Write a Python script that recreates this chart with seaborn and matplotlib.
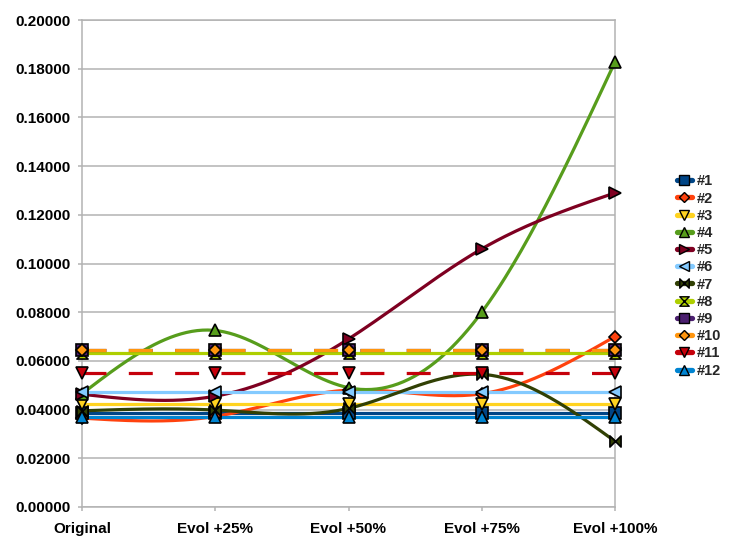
import numpy as np
import pandas as pd
import matplotlib
matplotlib.use('Agg')
import matplotlib.pyplot as plt
import seaborn as sns
from matplotlib.lines import Line2D
from matplotlib.path import Path

# categories on the x axis
categories = ['Original', 'Evol +25%', 'Evol +50%', 'Evol +75%', 'Evol +100%']
series_names = ['#1', '#2', '#3', '#4', '#5', '#6', '#7', '#8', '#9', '#10', '#11', '#12']

# series values
s1 = [0.0388, 0.0388, 0.0388, 0.0388, 0.0388]
s2 = [0.0365, 0.0372, 0.0480, 0.0465, 0.0700]
s3 = [0.0425, 0.0425, 0.0425, 0.0425, 0.0425]
s4 = [0.0465, 0.0725, 0.0490, 0.0800, 0.1828]
s5 = [0.0463, 0.0455, 0.0690, 0.1060, 0.1290]
s6 = [0.0472, 0.0472, 0.0472, 0.0472, 0.0472]
s7 = [0.0395, 0.0398, 0.0405, 0.0545, 0.0270]
s8 = [0.0632, 0.0632, 0.0632, 0.0632, 0.0632]
s9 = [0.0645, 0.0645, 0.0645, 0.0645, 0.0645]
s10 = [0.0646, 0.0646, 0.0646, 0.0646, 0.0646]
s11 = [0.0550, 0.0550, 0.0550, 0.0550, 0.0550]
s12 = [0.0368, 0.0368, 0.0368, 0.0368, 0.0368]
values = [s1, s2, s3, s4, s5, s6, s7, s8, s9, s10, s11, s12]

# LibreOffice default palette
colors = ['#004586', '#ff420e', '#ffd320', '#579d1c', '#7e0021', '#83caff',
          '#314004', '#aecf00', '#4b1f6f', '#ff950e', '#c5000b', '#0084d1']

bowtie = Path([(-1, 1), (-1, -1), (1, 1), (1, -1), (-1, 1)],
              [Path.MOVETO, Path.LINETO, Path.LINETO, Path.LINETO, Path.CLOSEPOLY])
hourglass = Path([(-1, 1), (1, 1), (-1, -1), (1, -1), (-1, 1)],
                 [Path.MOVETO, Path.LINETO, Path.LINETO, Path.LINETO, Path.CLOSEPOLY])
markers = ['s', 'D', 'v', '^', '>', '<', bowtie, hourglass, 's', 'D', 'v', '^']
msizes = [8, 6, 8, 8, 8, 8, 8, 8, 8, 6, 8, 8]
dashed = [False] * 8 + [True, True, True, False]


def natural_spline(x, y, n=200):
    """Natural cubic spline through the points, used only for the smooth line style"""
    x = np.asarray(x, float)
    y = np.asarray(y, float)
    k = len(x)
    h = np.diff(x)
    A = np.zeros((k, k))
    b = np.zeros(k)
    A[0, 0] = A[-1, -1] = 1
    for i in range(1, k - 1):
        A[i, i - 1] = h[i - 1]
        A[i, i] = 2 * (h[i - 1] + h[i])
        A[i, i + 1] = h[i]
        b[i] = 6 * ((y[i + 1] - y[i]) / h[i] - (y[i] - y[i - 1]) / h[i - 1])
    M = np.linalg.solve(A, b)
    xs = np.linspace(x[0], x[-1], n)
    idx = np.clip(np.searchsorted(x, xs) - 1, 0, k - 2)
    x0, x1 = x[idx], x[idx + 1]
    hh = x1 - x0
    t0, t1 = x1 - xs, xs - x0
    ys = (M[idx] * t0 ** 3 + M[idx + 1] * t1 ** 3) / (6 * hh) \
        + (y[idx] / hh - M[idx] * hh / 6) * t0 \
        + (y[idx + 1] / hh - M[idx + 1] * hh / 6) * t1
    return xs, ys


sns.set_style('white')
plt.rcParams['font.family'] = ['Liberation Sans', 'DejaVu Sans']

fig = plt.figure(figsize=(7.41, 5.57), dpi=100)
ax = fig.add_axes([82 / 741, 1 - 507 / 557, (615 - 82) / 741, (507 - 20) / 557])

xpos = np.arange(len(categories))
lw = 2.3
for i, (name, vals) in enumerate(zip(series_names, values)):
    xs, ys = natural_spline(xpos, vals)
    line_df = pd.DataFrame({'x': xs, 'y': ys})
    sns.lineplot(data=line_df, x='x', y='y', ax=ax, color=colors[i], linewidth=lw,
                 zorder=3 + i * 0.01, legend=False, estimator=None, sort=False)
    if dashed[i]:
        ax.lines[-1].set_dashes([7.5, 7])
        ax.lines[-1].set_dash_capstyle('butt')
    pt_df = pd.DataFrame({'x': xpos, 'y': vals})
    ax.plot(pt_df['x'], pt_df['y'], linestyle='none', marker=markers[i],
            markersize=msizes[i], markerfacecolor=colors[i], markeredgecolor='black',
            markeredgewidth=1.2, zorder=5 + i * 0.01, clip_on=False)

ax.set_xlim(0, 4)
ax.set_ylim(0, 0.2)
ax.set_xticks(xpos)
ax.set_xticklabels(categories)
yt = np.arange(0, 0.2001, 0.02)
ax.set_yticks(yt)
ax.set_yticklabels([f'{v:.5f}' for v in yt])
ax.set_xlabel('')
ax.set_ylabel('')

grid_c = '#b3b3b3'
ax.yaxis.grid(True, color=grid_c, linewidth=1.1)
ax.xaxis.grid(False)
ax.set_axisbelow(True)
for sp in ax.spines.values():
    sp.set_color(grid_c)
    sp.set_linewidth(1.1)
ax.tick_params(axis='both', which='both', direction='out', length=3, width=1.1,
               color=grid_c, labelsize=11, labelcolor='black')
ax.tick_params(axis='y', pad=5, left=True)
ax.tick_params(axis='x', pad=8, bottom=True)
for lab in ax.get_xticklabels() + ax.get_yticklabels():
    lab.set_fontweight('bold')

handles = [Line2D([0], [0], color=colors[i], linewidth=3.8, marker=markers[i],
                  markersize=msizes[i] * 0.85, markerfacecolor=colors[i],
                  markeredgecolor='black', markeredgewidth=1.0)
           for i in range(len(series_names))]
fig.legend(handles, series_names, loc='center left',
           bbox_to_anchor=(677 / 741, 1 - 276 / 557), frameon=False,
           prop={'size': 10.5, 'weight': 'bold'}, handlelength=1.0,
           handletextpad=0.35, labelspacing=0.22, borderpad=0, borderaxespad=0)

plt.savefig('out.png', dpi=100)
